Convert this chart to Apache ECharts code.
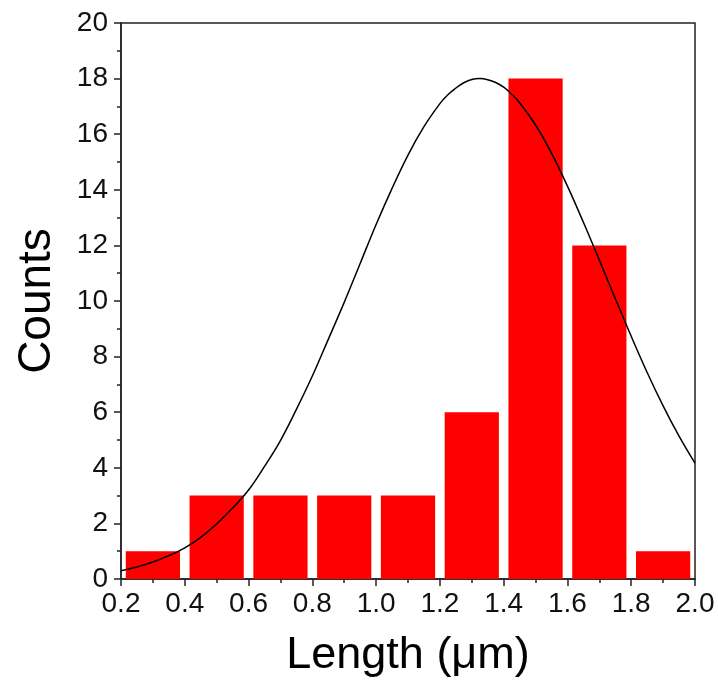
<!DOCTYPE html>
<html>
<head>
<meta charset="utf-8">
<script src="https://cdn.jsdelivr.net/npm/echarts@6/dist/echarts.min.js"></script>
<style>html,body{margin:0;padding:0;background:#fff;}#c{width:718px;height:684px;}</style>
</head>
<body>
<div id="c"></div>
<script>
// Histogram bins (bin start, bin end) and counts
var binStart = [0.2, 0.4, 0.6, 0.8, 1.0, 1.2, 1.4, 1.6, 1.8];
var binEnd   = [0.4, 0.6, 0.8, 1.0, 1.2, 1.4, 1.6, 1.8, 2.0];
var counts   = [1, 3, 3, 3, 3, 6, 18, 12, 1];

// Fitted curve, values
var curveX = [0.20,0.25,0.30,0.35,0.40,0.45,0.50,0.55,0.60,0.65,0.70,0.75,0.80,0.85,0.90,0.95,1.00,1.05,1.10,1.15,1.20,1.225,1.25,1.275,1.30,1.325,1.35,1.375,1.40,1.425,1.45,1.50,1.55,1.60,1.65,1.70,1.75,1.80,1.85,1.90,1.95,2.00];
var curveY = [0.30,0.43,0.61,0.84,1.12,1.50,1.98,2.55,3.20,4.05,4.98,6.10,7.30,8.62,9.95,11.35,12.75,14.05,15.25,16.27,17.10,17.42,17.66,17.85,17.97,18.00,17.96,17.86,17.69,17.44,17.13,16.33,15.32,14.13,12.83,11.47,10.09,8.73,7.43,6.23,5.14,4.17];

// Tick settings
var xMin = 0.2, xMax = 2.0, xStep = 0.2;
var yMin = 0, yMax = 20, yStep = 2;

var barData = binStart.map(function (s, i) { return [s, binEnd[i], counts[i]]; });
var lineData = curveX.map(function (x, i) { return [x, curveY[i]]; });

var FONT = 'Liberation Sans, Arial, sans-serif';
var chart = echarts.init(document.getElementById('c'));
chart.setOption({
  backgroundColor: '#fff',
  animation: false,
  grid: { left: 121, right: 23, top: 23, bottom: 105, containLabel: false, outerBoundsMode: 'none',
    show: true, borderColor: '#222', borderWidth: 1.5, backgroundColor: 'transparent' },
  xAxis: {
    type: 'value', min: xMin, max: xMax, interval: xStep,
    name: 'Length (μm)', nameLocation: 'middle', nameGap: 54,
    nameTextStyle: { fontFamily: FONT, fontSize: 45, color: '#000' },
    axisLine: { show: true, onZero: false, lineStyle: { color: '#222', width: 1.5 } },
    axisTick: { show: true, inside: false, length: 7, lineStyle: { color: '#222', width: 1.5 } },
    minorTick: { show: true, splitNumber: 2, length: 4, lineStyle: { color: '#222', width: 1.5 } },
    splitLine: { show: false },
    axisLabel: { fontFamily: FONT, fontSize: 28, color: '#111', margin: 11,
      formatter: function (v) { return v.toFixed(1); } }
  },
  yAxis: {
    type: 'value', min: yMin, max: yMax, interval: yStep,
    name: 'Counts', nameLocation: 'middle', nameGap: 61, nameRotate: 90,
    nameTextStyle: { fontFamily: FONT, fontSize: 46, color: '#000' },
    axisLine: { show: true, lineStyle: { color: '#222', width: 1.5 } },
    axisTick: { show: true, inside: false, length: 7, lineStyle: { color: '#222', width: 1.5 } },
    minorTick: { show: true, splitNumber: 2, length: 4, lineStyle: { color: '#222', width: 1.5 } },
    splitLine: { show: false },
    axisLabel: { fontFamily: FONT, fontSize: 28, color: '#111', margin: 13 }
  },
  series: [
    {
      type: 'custom',
      data: barData,
      encode: { x: [0, 1], y: 2 },
      z: 2,
      renderItem: function (params, api) {
        var s = api.value(0), e = api.value(1), c = api.value(2);
        var mid = (s + e) / 2, half = (e - s) * 0.425;
        var p0 = api.coord([mid - half, c]);
        var p1 = api.coord([mid + half, 0]);
        return {
          type: 'rect',
          shape: { x: p0[0], y: p0[1], width: p1[0] - p0[0], height: p1[1] - p0[1] },
          style: { fill: '#ff0000' }
        };
      }
    },
    {
      type: 'line',
      data: lineData,
      smooth: 0.4,
      showSymbol: false,
      symbol: 'none',
      z: 5,
      lineStyle: { color: '#000', width: 1.5 }
    }
  ]
});
</script>
</body>
</html>
